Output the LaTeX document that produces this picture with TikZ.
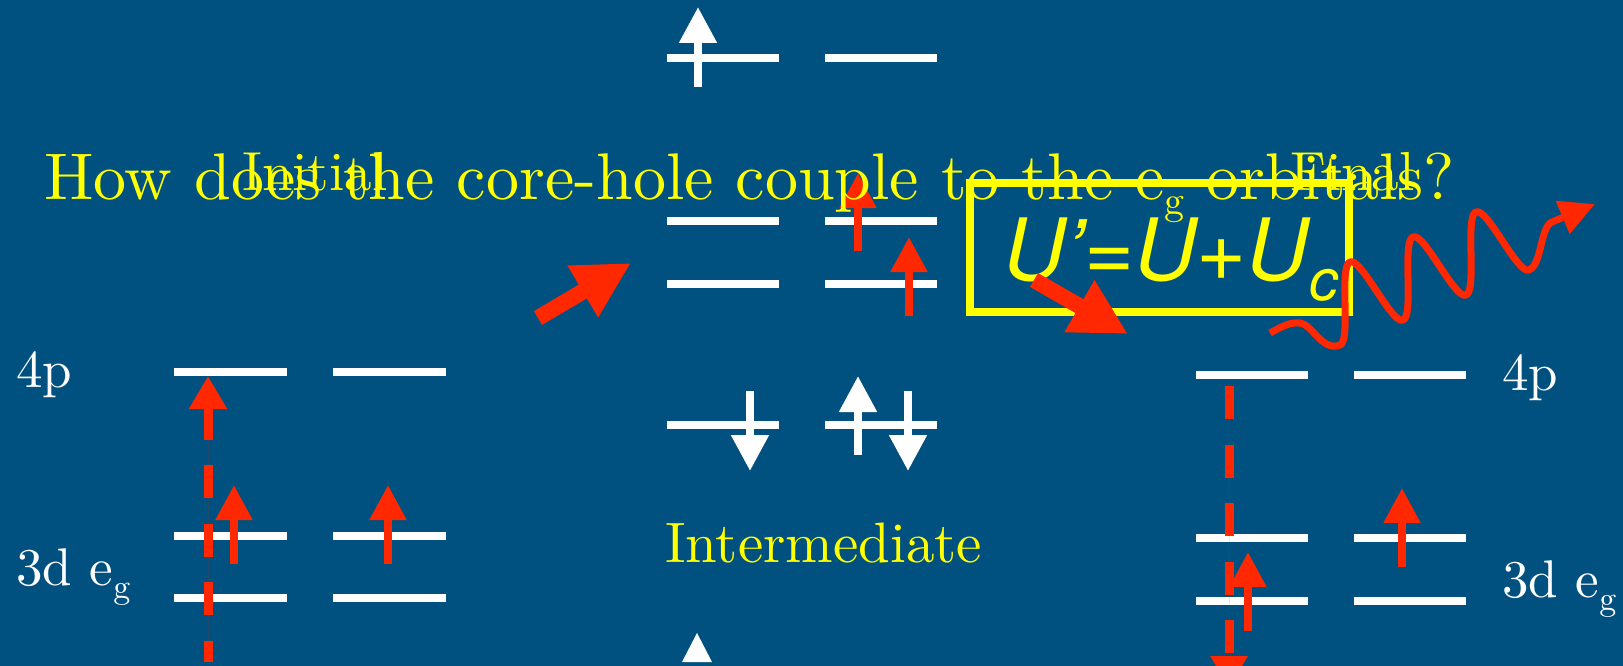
\documentclass[tikz,border=0pt]{standalone}
\usepackage{fontspec}
\setmainfont{lmroman10-regular.otf}
\newfontfamily\heros{TeX Gyre Heros}
\usetikzlibrary{arrows.meta}
\definecolor{bg}{RGB}{0,81,128}
\definecolor{redc}{RGB}{255,40,0}
\definecolor{yel}{RGB}{255,255,0}
\tikzset{
  level/.style={draw=white, line width=8pt},
  spinw/.style={draw=white, fill=white, line width=8pt, -{Triangle[length=36pt,width=36pt]}},
  spinr/.style={draw=redc, fill=redc, line width=8pt, -{Triangle[length=35pt,width=35pt]}},
  fatarrow/.style={draw=redc, fill=redc, line width=16pt, -{Triangle[length=56pt,width=56pt]}},
  dashred/.style={draw=redc, fill=redc, line width=9pt, dash pattern=on 33pt off 25.5pt},
  lbl/.style={anchor=base west, inner sep=0pt, text=white, font=\fontsize{53pt}{56pt}\selectfont},
  ylbl/.style={anchor=base west, inner sep=0pt, text=yel, font=\fontsize{55pt}{58pt}\selectfont},
}
\newcommand{\subg}[2]{\raisebox{#1}{\fontsize{#2}{#2}\selectfont g}}
\begin{document}
\begin{tikzpicture}[x=1pt,y=-1pt]
\clip (0,0) rectangle (1623,666);
\fill[bg] (0,0) rectangle (1623,666);

% ---- Initial levels
\draw[level] (174,372) -- (287,372);
\draw[level] (333,372) -- (446,372);
\draw[level] (174,536) -- (287,536);
\draw[level] (333,536) -- (446,536);
\draw[level] (174,598) -- (287,598);
\draw[level] (333,598) -- (446,598);
\draw[dashred, {Triangle[length=33pt,width=36pt]}-] (208,376) -- (208,662);
\draw[spinr] (234,564) -- (234,485);
\draw[spinr] (388,564) -- (388,485);
\node[lbl] (l4p) at (16,387) {4p};
\node[lbl] (l3d) at (16,585) {3d e\subg{-13pt}{34pt}};

% ---- Intermediate levels
\draw[level] (667,58) -- (779,58);
\draw[level] (825,58) -- (937,58);
\draw[level] (667,221) -- (779,221);
\draw[level] (825,221) -- (937,221);
\draw[level] (667,284) -- (779,284);
\draw[level] (825,284) -- (937,284);
\draw[level] (667,425) -- (779,425);
\draw[level] (825,425) -- (937,425);
\draw[spinw] (698,87) -- (698,7);
\draw[spinr] (858,251) -- (858,173);
\draw[spinr] (909,316) -- (909,237);
\draw[spinw] (750,391) -- (750,471);
\draw[spinw] (858,455) -- (858,376);
\draw[spinw] (908,391) -- (908,471);
\fill[white] (682,662) -- (712,662) -- (697,633) -- cycle;
\node[ylbl, font=\fontsize{57pt}{60pt}\selectfont] (inter) at (665,562) {Intermediate};

% ---- Final levels
\draw[level] (1196,375) -- (1308,375);
\draw[level] (1354,375) -- (1466,375);
\draw[level] (1196,538) -- (1308,538);
\draw[level] (1354,538) -- (1466,538);
\draw[level] (1196,601) -- (1308,601);
\draw[level] (1354,601) -- (1466,601);
\draw[dashred, -{Triangle[length=33pt,width=35pt]}] (1229,386) -- (1229,689);
\draw[spinr] (1248,631) -- (1248,552);
\draw[spinr] (1402,567) -- (1402,488);
\node[lbl] (r4p) at (1502,390) {4p};
\node[lbl] (r3d) at (1502,597) {3d e\subg{-13pt}{34pt}};

% ---- labels on top
\node[ylbl] (initial) at (242,190) {Initial};
\node[ylbl] (final) at (1290,190) {Final};
\node[anchor=base west, inner sep=0pt, text=yel, font=\fontsize{66pt}{70pt}\selectfont] (title) at (44,200)
  {How does the core-hole couple to the e\subg{-15pt}{40pt} orbitals?};

% ---- U' box
\node[draw=yel, line width=8pt, minimum width=379pt, minimum height=129pt, inner sep=0pt] (ubox) at (1159.5,247.5) {};
\node[anchor=base west, inner sep=0pt, text=yel, font=\heros\itshape\fontsize{86pt}{90pt}\selectfont] (ueq) at (1003,280)
  {U’=U+U\raisebox{-20pt}{\fontsize{58pt}{58pt}\selectfont c}};

% ---- fat arrows
\coordinate (a1s) at (538,318);
\coordinate (a1e) at (631,263);
\coordinate (a2s) at (1034,280);
\coordinate (a2e) at (1128,334);
\draw[fatarrow] (a1s) -- (a1e);
\draw[fatarrow] (a2s) -- (a2e);

% ---- photon
\coordinate (ph0) at (1270,333);
\coordinate (ph1) at (1595,204);
\draw[redc, line width=7pt, line join=round, -{Triangle[length=35pt,width=34pt]}]
  (ph0) .. controls (1283,326) and (1290,322) .. (1300,323)
  .. controls (1312,324) and (1322,352) .. (1340,345)
  --plot[domain=0:3, samples=150, variable=\t]
   ({1329.25+63*\t+10.75*cos(360*\t)},{309.75-25*\t+35.25*cos(360*\t)})
  .. controls (1542,265) and (1540,227) .. (1552,222) -- (ph1);
\end{tikzpicture}
\end{document}
